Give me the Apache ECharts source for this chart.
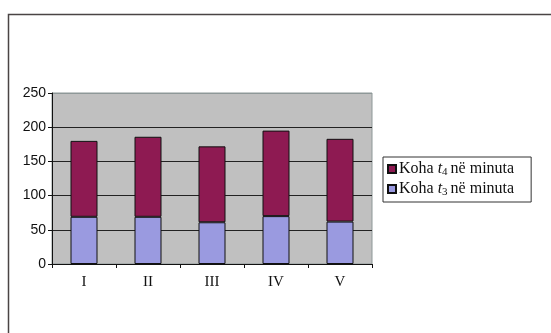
<!DOCTYPE html>
<html>
<head>
<meta charset="utf-8">
<script src="https://cdn.jsdelivr.net/npm/echarts@6/dist/echarts.min.js"></script>
<style>
  html, body { margin: 0; padding: 0; background: #ffffff; }
  #chart { width: 551px; height: 333px; }
</style>
</head>
<body>
<div id="chart"></div>
<script>
// Groups on the x axis
const categories = ['I', 'II', 'III', 'IV', 'V'];
// Time t3 in minutes (lower segment)
const kohaT3 = [69, 69, 61, 70, 62];
// Time t4 in minutes (upper segment, stacked on t3)
const kohaT4 = [111, 117, 111, 125, 121];
// Value axis ticks
const yTicks = [0, 50, 100, 150, 200, 250];

const serif = '"Liberation Serif", "Times New Roman", serif';
const sans = '"Liberation Sans", Arial, sans-serif';

const nameT4 = 'Koha t4 në minuta';
const nameT3 = 'Koha t3 në minuta';

const chart = echarts.init(document.getElementById('chart'), null, { renderer: 'canvas' });

chart.setOption({
  animation: false,
  backgroundColor: '#ffffff',
  graphic: [{
    type: 'rect',
    shape: { x: 8.5, y: 14.5, width: 600, height: 400 },
    style: { fill: 'none', stroke: '#4a4444', lineWidth: 1.5 },
    z: 0
  }],
  grid: {
    left: 52, right: 179, top: 93, bottom: 69,
    show: true,
    backgroundColor: '#c0c0c0',
    borderColor: '#8e9898',
    borderWidth: 1
  },
  legend: {
    orient: 'vertical',
    left: 383, top: 157,
    padding: [4, 17, 4, 4],
    itemGap: 3,
    itemWidth: 8, itemHeight: 8,
    icon: 'rect',
    borderColor: '#333333',
    borderWidth: 1,
    backgroundColor: '#ffffff',
    data: [nameT4, nameT3],
    formatter: function (name) {
      const n = name === nameT4 ? '4' : '3';
      return 'Koha {i|t}{s|' + n + '}në minuta';
    },
    textStyle: {
      fontFamily: serif, fontSize: 16, color: '#111',
      padding: [0, 0, 0, -2],
      rich: {
        i: { fontFamily: serif, fontSize: 16, fontStyle: 'italic', color: '#111' },
        s: { fontFamily: serif, fontSize: 11, color: '#111', verticalAlign: 'bottom', padding: [7, 3, 0, 0] }
      }
    }
  },
  xAxis: {
    type: 'category',
    data: categories,
    boundaryGap: true,
    axisLine: { lineStyle: { color: '#111', width: 1 } },
    axisTick: { show: true, length: 4, alignWithLabel: false, lineStyle: { color: '#111' } },
    axisLabel: { fontFamily: serif, fontSize: 15, color: '#111', margin: 11 },
    splitLine: { show: false }
  },
  yAxis: {
    type: 'value',
    min: yTicks[0], max: yTicks[yTicks.length - 1], interval: yTicks[1] - yTicks[0],
    axisLine: { show: true, lineStyle: { color: '#111', width: 1 } },
    axisTick: { show: true, length: 4, lineStyle: { color: '#111' } },
    axisLabel: { fontFamily: sans, fontSize: 14, color: '#111', margin: 6 },
    splitLine: {
      show: true,
      lineStyle: { color: ['#222', '#222', '#222', '#222', '#222', '#8e9898'], width: 1 }
    }
  },
  series: [
    {
      name: nameT3,
      type: 'bar',
      stack: 'koha',
      data: kohaT3,
      barWidth: 27,
      itemStyle: { color: '#9a9ae0', borderColor: '#111', borderWidth: 1 }
    },
    {
      name: nameT4,
      type: 'bar',
      stack: 'koha',
      data: kohaT4,
      barWidth: 27,
      itemStyle: { color: '#8e1a52', borderColor: '#111', borderWidth: 1 }
    }
  ]
});
</script>
</body>
</html>
